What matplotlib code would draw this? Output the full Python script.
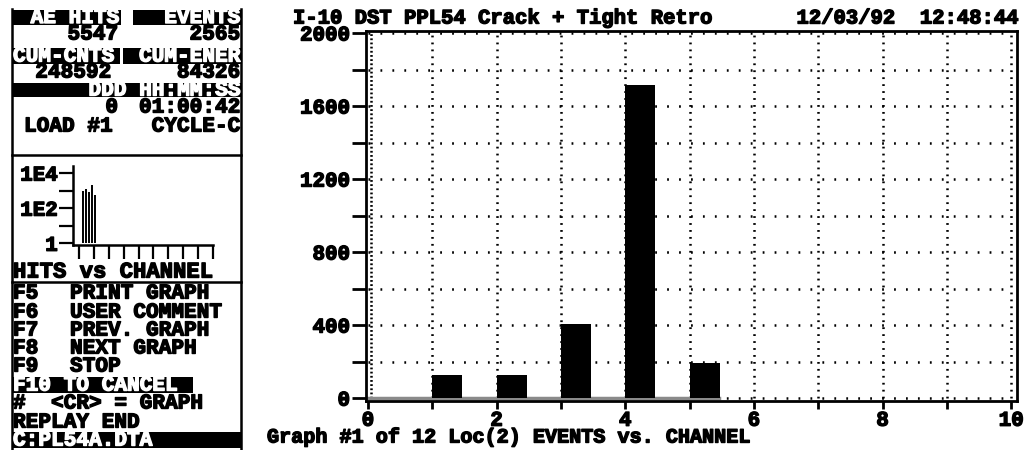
import matplotlib
matplotlib.use("Agg")
import matplotlib.pyplot as plt
import matplotlib.patheffects as pe
from matplotlib.patches import Rectangle
from matplotlib.lines import Line2D

plt.rcParams['lines.scale_dashes'] = False

# ---------------- data ----------------
channels = [0, 1, 2, 3, 4, 5]
events = [0, 126, 126, 405, 1716, 192]

hits_x = [1.25, 1.47, 1.69, 1.87, 2.09]
hits = [940, 1210, 825, 2015, 557]

y_major = [0, 400, 800, 1200, 1600, 2000]
y_minor = [200, 600, 1000, 1400, 1800]
x_major = [0, 2, 4, 6, 8, 10]
x_minor = [1, 3, 5, 7, 9]

title = "I-10 DST PPL54 Crack + Tight Retro"
stamp = "12/03/92  12:48:44"
footer = "Graph #1 of 12 Loc(2) EVENTS vs. CHANNEL"

hdr_left, hdr_right = "AE HITS", "EVENTS"
val_hits, val_events = "5547", "2565"
hdr2_left, hdr2_right = "CUM-CNTS", "CUM-ENER"
val_cnts, val_ener = "248592", "84326"
time_hdr = "DDD HH:MM:SS"
time_day, time_hms = "0", "01:00:42"
load_txt, cycle_txt = "LOAD #1", "CYCLE-C"
small_title = "HITS vs CHANNEL"
menu = [("F5", "PRINT GRAPH"), ("F6", "USER COMMENT"), ("F7", "PREV. GRAPH"),
        ("F8", "NEXT GRAPH"), ("F9", "STOP")]
cancel_txt = "F10 TO CANCEL"
cr_txt = "#  <CR> = GRAPH"
replay_txt = "REPLAY END"
file_txt = "C:PL54A.DTA"

FONT = "Liberation Mono"
W, H = 1024, 450
fig = plt.figure(figsize=(W / 100, H / 100), dpi=100)
fig.patch.set_facecolor("white")


def fx(px):
    return px / W


def fy(py):
    return 1 - py / H


def rect(x0, y0, x1, y1, color="black"):
    fig.add_artist(Rectangle((fx(x0), fy(y1)), fx(x1) - fx(x0), (y1 - y0) / H,
                             transform=fig.transFigure, facecolor=color,
                             edgecolor="none", zorder=1))


def hline(x0, x1, y, lw=1.8):
    fig.add_artist(Line2D([fx(x0), fx(x1)], [fy(y), fy(y)], transform=fig.transFigure,
                          color="black", lw=lw, zorder=2))


def vline(x, y0, y1, lw=1.8):
    fig.add_artist(Line2D([fx(x), fx(x)], [fy(y0), fy(y1)], transform=fig.transFigure,
                          color="black", lw=lw, zorder=2))


def txt(x, y, s, ha="left", color="black", size=15.2):
    fig.text(fx(x), fy(y), s, ha=ha, va="center", color=color, family=FONT,
             weight="bold", fontsize=size, zorder=3,
             path_effects=[pe.withStroke(linewidth=1.0, foreground=color)])


BOLD = [pe.withStroke(linewidth=1.0, foreground="black")]

# ---------------- left panel ----------------
vline(12, 9, 452)
vline(241, 9, 452)
hline(12, 241, 155)
hline(12, 241, 282)

rect(12, 10, 121, 25)
rect(133, 10, 241, 25)
txt(119, 17.5, hdr_left, ha="right", color="white")
txt(240, 17.5, hdr_right, ha="right", color="white")
txt(118, 34, val_hits, ha="right")
txt(240, 34, val_events, ha="right")
rect(12, 48, 120, 64)
rect(123, 48, 241, 64)
txt(13, 56, hdr2_left, color="white")
txt(240, 56, hdr2_right, ha="right", color="white")
txt(111, 72, val_cnts, ha="right")
txt(240, 72, val_ener, ha="right")
rect(12, 83, 241, 97)
txt(240, 90, time_hdr, ha="right", color="white")
txt(118, 107, time_day, ha="right")
txt(240, 107, time_hms, ha="right")
txt(24, 126, load_txt)
txt(240, 126, cycle_txt, ha="right")

# small log chart
sax = fig.add_axes([fx(73), fy(245), 140 / W, 79 / H])
sax.vlines(hits_x, 1, hits, color="black", lw=1.4)
sax.set_yscale("log")
sax.set_ylim(10 ** -0.1, 10 ** 4.4)
sax.set_xlim(0.6, 10.0)
sax.set_xticks(range(1, 11))
sax.set_xticklabels([])
sax.set_yticks([1, 10, 100, 1000, 10000])
sax.set_yticklabels(["1", "", "1E2", "", "1E4"], family=FONT, weight="bold", fontsize=15)
for lab in sax.get_yticklabels():
    lab.set_path_effects(BOLD)
sax.yaxis.set_minor_locator(matplotlib.ticker.NullLocator())
sax.tick_params(axis="y", length=10, width=1.6, pad=1)
sax.tick_params(axis="x", length=10, width=1.6, direction="out")
for s in ["top", "right"]:
    sax.spines[s].set_visible(False)
for s in ["left", "bottom"]:
    sax.spines[s].set_linewidth(1.8)
sax.patch.set_alpha(0)
txt(13, 272, small_title, size=16)

rows_y = [293, 312, 330, 348, 366]
for (k, c), yy in zip(menu, rows_y):
    txt(13, yy, k)
    txt(70, yy, c)
rect(12, 377, 193, 393)
txt(13, 385, cancel_txt, color="white")
txt(13, 403, cr_txt)
txt(13, 422, replay_txt)
rect(12, 432, 241, 448)
txt(13, 440, file_txt, color="white")

# ---------------- main chart ----------------
ax = fig.add_axes([fx(366), fy(401), 651 / W, 370 / H])
ax.set_xlim(-0.03, 10.09)
ax.set_ylim(-16, 2011)

# dotted grid
for yv in y_minor + y_major[1:] + [0]:
    ax.plot([0, 10], [yv, yv], color="black", lw=1.8,
            linestyle=(0, (1.3, 7.3)), zorder=1)
for xv in range(1, 11):
    ax.plot([xv, xv], [0, 2000], color="black", lw=1.8,
            linestyle=(0, (1.3, 3.7)), zorder=1)
ax.plot([0.05, 0.05], [0, 2000], color="black", lw=1.8,
        linestyle=(0, (1.3, 1.7)), zorder=1)

ax.plot([0, 5.45], [0, 0], color="#8a8a8a", lw=2.5, zorder=2)
ax.bar(channels, events, width=0.47, align="edge", color="black", zorder=3)

ax.set_yticks(y_major)
ax.set_yticks(y_minor, minor=True)
ax.set_yticklabels([str(v) for v in y_major], family=FONT, weight="bold", fontsize=15)
ax.set_xticks(x_major)
ax.set_xticks(x_minor, minor=True)
ax.set_xticklabels([str(v) for v in x_major], family=FONT, weight="bold", fontsize=15)
for lab in ax.get_yticklabels() + ax.get_xticklabels():
    lab.set_path_effects(BOLD)
ax.tick_params(axis="y", which="both", length=10, width=2, pad=1.5)
ax.tick_params(axis="x", which="both", length=6, width=2, pad=1)
for s in ax.spines.values():
    s.set_linewidth(2)

txt(293, 18, title, size=14.8)
txt(1017, 18, stamp, ha="right", size=14.8)
txt(267, 437, footer, size=14.5)

fig.savefig("out.png", dpi=100, facecolor="white")
